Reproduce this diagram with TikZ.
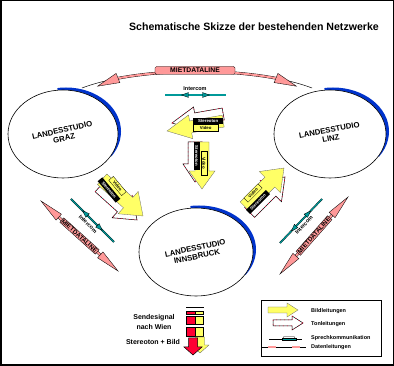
\documentclass[tikz,border=0pt]{standalone}
\usepackage{fontspec}
\setmainfont{Liberation Sans}
\usetikzlibrary{calc,shapes.geometric}
\definecolor{pinkc}{RGB}{255,153,153}
\definecolor{yel}{RGB}{255,255,102}
\definecolor{tealc}{RGB}{0,153,153}
\definecolor{bluec}{RGB}{0,51,204}
\definecolor{redc}{RGB}{255,0,51}
\newcommand{\fs}[1]{\fontsize{#1}{#1}\selectfont\bfseries}
% [style]{tip x}{tip y}{angle}{length}{shaft half width}{head half width}{head length}
\newcommand{\blockarrow}[8][]{%
  \path[#1,shift={(#2,-#3)},rotate=#4] (0,0) -- (-#8,#7) -- (-#8,#6) -- (-#5,#6) -- (-#5,-#6) -- (-#8,-#6) -- (-#8,-#7) -- cycle;}
% {x1}{y1}{x2}{y2}{label}{rotation}
\newcommand{\pinkarrow}[6]{%
  \coordinate (pa) at (#1,-#2); \coordinate (pb) at (#3,-#4);
  \coordinate (ha) at ($(pa)!24pt!(pb)$); \coordinate (hb) at ($(pb)!24pt!(pa)$);
  \draw[pinkband] (ha) -- (hb);
  \filldraw[pinkhead] (pa) -- ($(ha)!4pt!90:(pb)$) -- ($(ha)!4pt!-90:(pb)$) -- cycle;
  \filldraw[pinkhead] (pb) -- ($(hb)!4pt!90:(pa)$) -- ($(hb)!4pt!-90:(pa)$) -- cycle;
  \node[pinklabel, rotate=#6] at ($(pa)!0.5!(pb)$) {#5};}
% {x1}{y1}{x2}{y2}
\newcommand{\tealline}[4]{%
  \coordinate (ta) at (#1,-#2); \coordinate (tb) at (#3,-#4);
  \draw[tealband] (ta) -- (tb);
  \coordinate (t1) at ($(ta)!0.27!(tb)$); \coordinate (b1) at ($(t1)!7pt!(tb)$);
  \coordinate (t2) at ($(tb)!0.27!(ta)$); \coordinate (b2) at ($(t2)!7pt!(ta)$);
  \filldraw[tealhead] (t1) -- ($(b1)!2.5pt!90:(tb)$) -- ($(b1)!2.5pt!-90:(tb)$) -- cycle;
  \filldraw[tealhead] (t2) -- ($(b2)!2.5pt!90:(ta)$) -- ($(b2)!2.5pt!-90:(ta)$) -- cycle;}
% {name}{cx}{cy}{rx}{ry}{rotation}{line 1}{line 2}
\newcommand{\studio}[8]{%
  \begin{scope}
    \clip (#2,-#3) -- +(97:90) -- +(40:110) -- +(-25:90) -- cycle;
    \fill[bluec] ({#2+3},{-#3+2.5}) ellipse [x radius=#4, y radius=#5];
  \end{scope}
  \node[studiobox, minimum width={2*#4}, minimum height={2*#5}] (#1) at (#2,-#3) {};
  \begin{scope}[shift={(#2,-#3)}, rotate=#6]
    \node[studiotext] (#1-a) at (0,3.8) {#7};
    \node[studiotext] (#1-b) at (0,-4.6) {#8};
  \end{scope}}
\begin{document}
\begin{tikzpicture}[x=1pt,y=1pt,
  pinkband/.style={draw=black, line width=0.35pt, double=pinkc, double distance=2pt},
  pinkhead/.style={fill=pinkc, draw=black, line width=0.35pt},
  pinklabel/.style={fill=pinkc, draw=black, line width=0.35pt, inner sep=0.8pt, font=\fs{6.3}},
  tealband/.style={draw=black, line width=0.3pt, double=tealc, double distance=1.2pt},
  tealhead/.style={fill=tealc, draw=black, line width=0.3pt},
  teallabel/.style={fill=white, inner sep=0.5pt, font=\fs{5.5}},
  studiobox/.style={draw=black, ellipse, fill=white, inner sep=0pt, line width=0.6pt},
  studiotext/.style={font=\fs{7.8}, inner sep=0pt, transform shape},
  yarrow/.style={fill=yel, draw=black!60, line width=0.3pt},
  warrow/.style={fill=white, draw=black, line width=0.5pt, postaction={draw=redc, dash pattern=on 1pt off 3pt}},
  rarrow/.style={fill=redc, draw=black, line width=0.5pt},
  blacklbl/.style={fill=black, text=white, inner sep=0.5pt, font=\fs{4.3}},
  yellbl/.style={fill=yel, draw=black, line width=0.3pt, inner sep=0.5pt, font=\fs{4.3}},
  legtext/.style={anchor=west, inner sep=0pt, font=\fs{5.5}},
  bottext/.style={inner sep=0pt, font=\fs{7}}]
\useasboundingbox (0,0) rectangle (394,-366);
\draw[line width=1.5pt] (0.75,-0.75) rectangle (393.25,-365.25);

% title
\node[font=\fs{10.6}] (title) at (254,-27) {Schematische Skizze der bestehenden Netzwerke};

% top Mietdataline arc
\draw[line width=0.5pt] (82,-88) .. controls (140,-66) and (254,-66) .. (312,-88);
\begin{scope}
  \clip (118,0) rectangle (276,-100);
  \draw[pinkband] (82,-88) .. controls (140,-66) and (254,-66) .. (312,-88);
\end{scope}
\filldraw[pinkhead] (97.6,-86.2) -- (116.1,-73.4) -- (119.9,-82.6) -- cycle;
\filldraw[pinkhead] (296.4,-86.2) -- (277.9,-73.4) -- (274.1,-82.6) -- cycle;
\node[pinklabel, font=\fs{6.8}, minimum width=80pt, minimum height=8pt, rounded corners=1.5pt] (mdl) at (195,-70.5) {MIETDATALINE};

% top intercom
\tealline{165}{95}{226}{95}
\node[teallabel] (icT) at (195,-88.5) {Intercom};

% studios
\studio{graz}{63}{134}{55}{44}{13}{LANDESSTUDIO}{GRAZ}
\studio{linz}{330}{134}{56}{44}{11}{LANDESSTUDIO}{LINZ}
\studio{ibk}{196}{252}{57}{44}{12}{LANDESSTUDIO}{INNSBRUCK}

% diagonal pink lines
\pinkarrow{41}{201}{118}{271}{MIETDATALINE}{-42}
\pinkarrow{280}{274}{348}{197}{MIETDATALINE}{48.5}

% diagonal intercoms
\tealline{71}{199}{114}{242}
\node[teallabel, rotate=-45] (icL) at (88,-224) {Intercom};
\tealline{280}{243}{322}{199}
\node[teallabel, rotate=47] (icR) at (304,-225) {Intercom};

% centre arrow pointing left
\blockarrow[warrow]{172}{123}{190}{52}{6}{12}{24}
\blockarrow[yarrow]{167}{131}{190}{57}{6}{12}{24}
\node[blacklbl, minimum width=30pt, minimum height=6pt, anchor=south west] (st1) at (193,-124) {Stereoton};
\node[yellbl, minimum width=25pt, minimum height=6.5pt, anchor=north west] (vd1) at (193,-124.5) {Video\hspace{10pt}};

% centre arrow pointing down
\blockarrow[warrow]{195}{182}{-90}{40}{7}{12}{18}
\blockarrow[yarrow]{202}{189}{-90}{47}{7}{13}{18}
\node[blacklbl, rotate=-90, minimum width=28pt, minimum height=6pt] (st2) at (196.5,-156) {Stereoton};
\node[yellbl, rotate=-90, minimum width=24pt, minimum height=6pt] (vd2) at (204,-163) {Video};

% Graz -> Innsbruck
\blockarrow[warrow]{137}{220}{-42}{50}{7}{15}{20}
\blockarrow[yarrow]{143}{216}{-42}{55}{7}{15}{20}
\node[blacklbl, rotate=-50, minimum width=28pt, minimum height=6pt] (st3) at (109,-190) {Stereoton};
\node[yellbl, rotate=-50, minimum width=20pt, minimum height=6pt] (vd3) at (117.5,-186) {Video};

% Innsbruck -> Linz
\blockarrow[warrow]{285}{177}{45}{50}{7}{15}{20}
\blockarrow[yarrow]{284}{168}{45}{55}{7}{15}{20}
\node[blacklbl, rotate=45, minimum width=28pt, minimum height=6pt] (st4) at (258,-202) {Stereoton};
\node[yellbl, rotate=45, minimum width=20pt, minimum height=6pt] (vd4) at (253,-193) {Video};

% bottom stack
\draw[line width=1pt] (186,-308) -- (204,-308);
\filldraw[fill=redc, line width=0.4pt] (186,-311) rectangle (195,-314);
\filldraw[fill=yel, line width=0.4pt] (195,-311) rectangle (203,-314);
\filldraw[fill=redc, line width=0.4pt] (186,-316) rectangle (195,-324);
\filldraw[fill=yel, line width=0.4pt] (195,-316) rectangle (203,-324);
\filldraw[fill=redc, line width=0.4pt] (186,-327) rectangle (195,-336);
\filldraw[fill=yel, line width=0.4pt] (195,-327) rectangle (203,-336);
\blockarrow[yarrow]{200}{353}{-90}{16}{4.5}{9}{8}
\blockarrow[rarrow]{193}{355}{-90}{17}{4.5}{9}{8}
\node[bottext] (send) at (154,-318) {Sendesignal};
\node[bottext] (wien) at (154,-327) {nach Wien};
\node[bottext] (stb) at (153,-342) {Stereoton + Bild};

% legend
\draw[line width=0.8pt] (261,-300) rectangle (381,-356);
\blockarrow[yarrow]{298}{310}{0}{30}{3}{7}{11}
\blockarrow[warrow]{303}{323}{0}{30}{3}{7}{11}
\draw[line width=0.6pt] (269,-339) -- (302,-339);
\filldraw[fill=tealc, line width=0.3pt] (282,-337.8) rectangle (296,-340.2);
\draw[line width=0.3pt] (283,-337.8) -- (284,-336.5) -- (294,-336.5) -- (295,-337.8);
\draw[line width=0.4pt] (262,-347) -- (306,-347);
\draw[pinkband, double distance=1.2pt] (268,-347) -- (276,-347);
\draw[pinkband, double distance=1.2pt] (292,-347) -- (300,-347);
\node[legtext] (l1) at (311,-311) {Bildleitungen};
\node[legtext] (l2) at (311,-324) {Tonleitungen};
\node[legtext] (l3) at (311,-338.5) {Sprechkommunikation};
\node[legtext] (l4) at (311,-347.5) {Datenleitungen};
\end{tikzpicture}
\end{document}
